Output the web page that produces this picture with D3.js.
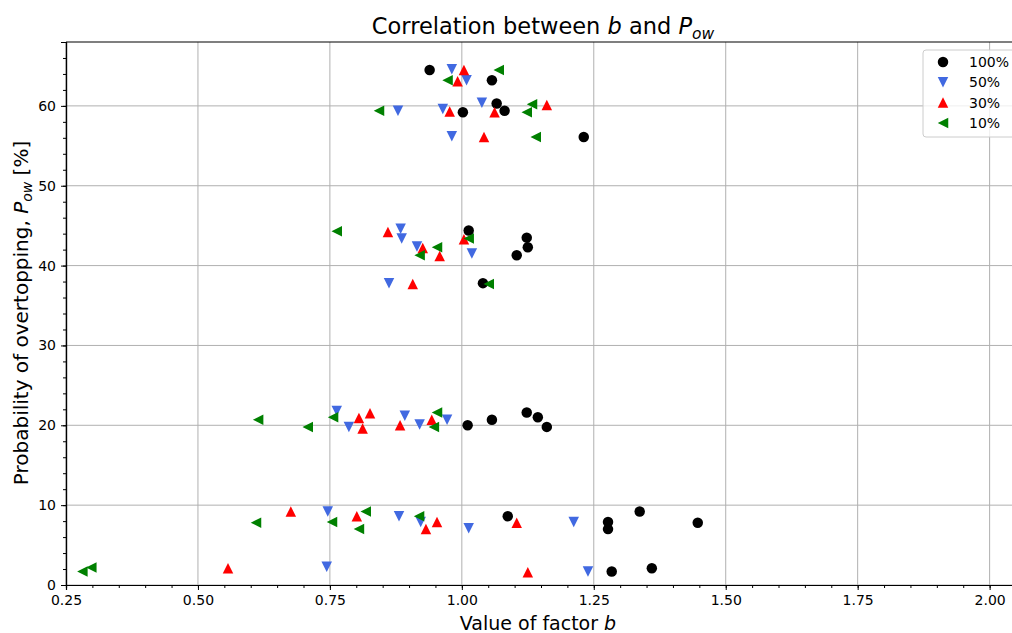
<!DOCTYPE html>
<html>
<head>
<meta charset="utf-8">
<script src="https://cdn.jsdelivr.net/npm/d3@7/dist/d3.min.js"></script>
<style>
  html, body { margin: 0; padding: 0; background: #fff; }
  svg { display: block; font-family: "DejaVu Sans", sans-serif; }
  .tick text { font-size: 14px; font-family: "DejaVu Sans", sans-serif; fill: #000; }
</style>
</head>
<body>
<svg id="chart" width="1012" height="633"></svg>
<script>
// Factor b (x) and probability of overtopping P_ow in % (y) for each series
const series100_b = [0.939, 1.057, 1.066, 1.081, 1.002, 1.231, 1.013, 1.123, 1.125, 1.104, 1.040, 1.011, 1.057, 1.123, 1.144, 1.161, 1.087, 1.277, 1.277, 1.337, 1.447, 1.284, 1.360];
const series100_p = [64.5, 63.2, 60.3, 59.4, 59.2, 56.1, 44.4, 43.5, 42.3, 41.3, 37.8, 20.0, 20.7, 21.6, 21.0, 19.8, 8.6, 7.9, 7.0, 9.2, 7.8, 1.7, 2.1];

const series50_b = [0.981, 1.009, 1.038, 0.964, 0.879, 0.981, 0.884, 0.886, 0.915, 1.019, 0.862, 0.763, 0.786, 0.892, 0.920, 0.972, 0.746, 0.881, 0.922, 1.013, 1.212, 0.744, 1.239];
const series50_p = [64.6, 63.2, 60.4, 59.6, 59.4, 56.2, 44.6, 43.4, 42.4, 41.5, 37.8, 21.8, 19.8, 21.2, 20.1, 20.7, 9.2, 8.6, 7.9, 7.1, 7.9, 2.3, 1.7];

const series30_b = [1.004, 0.992, 0.977, 1.062, 1.161, 1.042, 0.860, 0.926, 0.958, 1.004, 0.907, 0.805, 0.812, 0.826, 0.883, 0.943, 0.676, 0.801, 0.953, 0.932, 1.104, 0.557, 1.125];
const series30_p = [64.5, 63.1, 59.3, 59.2, 60.1, 56.1, 44.2, 42.2, 41.2, 43.3, 37.7, 20.9, 19.6, 21.5, 20.0, 20.7, 9.2, 8.6, 7.9, 7.0, 7.8, 2.1, 1.6];

const series10_b = [1.070, 0.973, 1.133, 1.123, 0.843, 1.140, 0.763, 0.953, 0.920, 1.013, 1.051, 0.614, 0.708, 0.756, 0.953, 0.947, 0.610, 0.754, 0.818, 0.805, 0.919, 0.281, 0.298];
const series10_p = [64.5, 63.2, 60.2, 59.2, 59.4, 56.1, 44.3, 42.3, 41.3, 43.4, 37.7, 20.7, 19.8, 21.0, 21.6, 19.8, 7.8, 7.9, 9.2, 7.0, 8.6, 1.7, 2.2];

const seriesNames = ["100%", "50%", "30%", "10%"];
const xTicks = [0.25, 0.50, 0.75, 1.00, 1.25, 1.50, 1.75, 2.00];
const yTicks = [0, 10, 20, 30, 40, 50, 60];

const seriesList = [
  { name: seriesNames[0], b: series100_b, p: series100_p, marker: "o", color: "#000000" },
  { name: seriesNames[1], b: series50_b,  p: series50_p,  marker: "v", color: "#4169e1" },
  { name: seriesNames[2], b: series30_b,  p: series30_p,  marker: "^", color: "#ff0000" },
  { name: seriesNames[3], b: series10_b,  p: series10_p,  marker: "<", color: "#008000" }
];

const svg = d3.select("#chart");
const margin = { left: 66, top: 42 };
const plotW = 950, plotH = 543;

const x = d3.scaleLinear().domain([0.25, 2.05]).range([margin.left, margin.left + plotW]);
const y = d3.scaleLinear().domain([0, 68]).range([margin.top + plotH, margin.top]);

const S = 10.5; // marker size in px
function markerPath(m) {
  const h = S / 2;
  if (m === "o") return d3.symbol(d3.symbolCircle, Math.PI * h * h)();
  if (m === "v") return `M0,${h}L${-h},${-h}L${h},${-h}Z`;
  if (m === "^") return `M0,${-h}L${-h},${h}L${h},${h}Z`;
  if (m === "<") return `M${-h},0L${h},${-h}L${h},${h}Z`;
}

// grid
const grid = svg.append("g");
grid.selectAll("line.gx").data(xTicks).join("line")
  .attr("x1", d => x(d)).attr("x2", d => x(d))
  .attr("y1", y(0)).attr("y2", y(68))
  .attr("stroke", "#b0b0b0").attr("stroke-width", 1);
grid.selectAll("line.gy").data(yTicks).join("line")
  .attr("y1", d => y(d)).attr("y2", d => y(d))
  .attr("x1", x(0.25)).attr("x2", x(2.05))
  .attr("stroke", "#b0b0b0").attr("stroke-width", 1);

// points
seriesList.forEach(s => {
  svg.append("g").selectAll("path").data(s.b.map((b, i) => [b, s.p[i]])).join("path")
    .attr("d", markerPath(s.marker))
    .attr("transform", d => `translate(${x(d[0])},${y(d[1])})`)
    .attr("fill", s.color);
});

// axes
const xMinor = d3.range(0.25, 2.0501, 0.05);
const yMinor = d3.range(0, 68.01, 2);
const xAxis = svg.append("g").attr("transform", `translate(0,${y(0)})`);
xAxis.call(d3.axisBottom(x).tickValues(xMinor).tickSize(3).tickFormat(""));
xAxis.append("g").call(d3.axisBottom(x).tickValues(xTicks).tickSize(5).tickPadding(5).tickFormat(d3.format(".2f")));
const yAxis = svg.append("g").attr("transform", `translate(${x(0.25)},0)`);
yAxis.call(d3.axisLeft(y).tickValues(yMinor).tickSize(3).tickFormat(""));
yAxis.append("g").call(d3.axisLeft(y).tickValues(yTicks).tickSize(5).tickPadding(5).tickFormat(d3.format("d")));
svg.selectAll(".domain").attr("stroke", "#000").attr("stroke-width", 1.2);
svg.selectAll(".tick line").attr("stroke", "#000");
svg.selectAll(".tick text").style("font-size", "14px").style("fill", "#000");
// top spine
svg.append("line").attr("x1", x(0.25)).attr("x2", x(2.05)).attr("y1", y(68)).attr("y2", y(68))
  .attr("stroke", "#000").attr("stroke-width", 1.2);

// title
const title = svg.append("text").attr("x", 543).attr("y", 34).attr("text-anchor", "middle")
  .style("font-size", "22.5px").attr("fill", "#000");
title.append("tspan").text("Correlation between ");
title.append("tspan").attr("font-style", "italic").text("b");
title.append("tspan").text(" and ");
title.append("tspan").attr("font-style", "italic").text("P");
title.append("tspan").attr("font-style", "italic").style("font-size", "15.5px").attr("dy", 5).text("ow");

// x label
const xl = svg.append("text").attr("x", 538).attr("y", 630).attr("text-anchor", "middle")
  .style("font-size", "19px").attr("fill", "#000");
xl.append("tspan").text("Value of factor ");
xl.append("tspan").attr("font-style", "italic").text("b");

// y label
const yl = svg.append("text").attr("transform", `translate(28,${313}) rotate(-90)`)
  .attr("text-anchor", "middle").style("font-size", "20px").attr("fill", "#000");
yl.append("tspan").text("Probability of overtopping, ");
yl.append("tspan").attr("font-style", "italic").text("P");
yl.append("tspan").attr("font-style", "italic").style("font-size", "14px").attr("dy", 4).text("ow");
yl.append("tspan").attr("dy", -4).text(" [%]");

// legend
const lg = svg.append("g");
lg.append("rect").attr("x", 923).attr("y", 50).attr("width", 100).attr("height", 87).attr("rx", 3)
  .attr("fill", "#fff").attr("fill-opacity", 0.8).attr("stroke", "#cccccc");
seriesList.forEach((s, i) => {
  const yy = 62 + i * 20.3;
  lg.append("path").attr("d", markerPath(s.marker)).attr("transform", `translate(943,${yy})`).attr("fill", s.color);
  lg.append("text").attr("x", 969).attr("y", yy + 5).style("font-size", "14px").attr("fill", "#000").text(s.name);
});
</script>
</body>
</html>
